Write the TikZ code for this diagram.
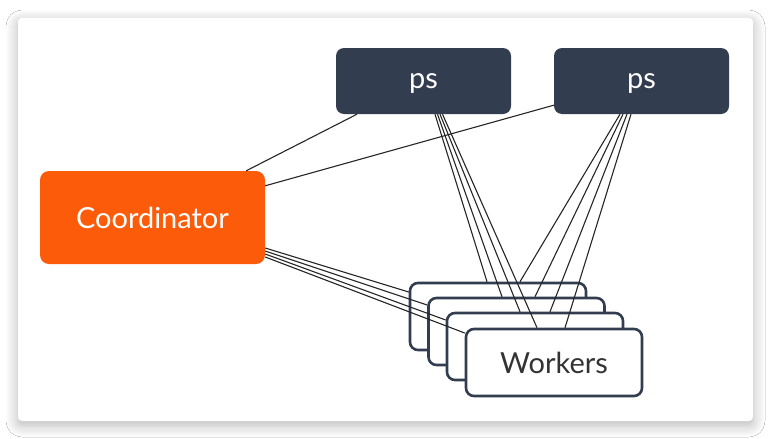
\documentclass[tikz,border=0pt]{standalone}
\usepackage{fontspec}
\setmainfont{Lato}
\usetikzlibrary{calc,shadows.blur}
\definecolor{navy}{HTML}{333D50}
\definecolor{orangec}{HTML}{FC5B0A}
\definecolor{wtext}{HTML}{333333}
\tikzset{
  psbox/.style={fill=navy, rounded corners=8pt, minimum width=175pt, minimum height=66pt, inner sep=0pt, text depth=0pt, text=white, font=\fontsize{29}{34}\selectfont},
  coordbox/.style={fill=orangec, rounded corners=9pt, minimum width=225pt, minimum height=93pt, inner sep=0pt, text=white, font=\fontsize{29}{34}\selectfont},
  workbox/.style={draw=navy, line width=2.6pt, fill=white, rounded corners=8pt, minimum width=176pt, minimum height=67pt, inner sep=0pt, text=wtext, font=\fontsize{29}{34}\selectfont},
  link/.style={draw=black!85, line width=1.1pt},
  card/.style={fill=white, rounded corners=4pt, blur shadow={shadow xshift=0pt, shadow yshift=-4pt, shadow blur radius=12pt, shadow opacity=30, shadow blur steps=12}}
}
\begin{document}
\begin{tikzpicture}[x=1pt,y=-1pt]
\useasboundingbox[fill=white] (0,0) rectangle (771,439);
\path[card] (18,18) rectangle (753,421);
\node[psbox] (ps1) at (423.5,81) {ps};
\node[psbox] (ps2) at (641.5,81) {ps};
\node[coordbox] (coord) at (152.5,217.5) {Coordinator};
\node[workbox] (w1) at (498,316.5) {};
\node[workbox] (w2) at (516.5,331.5) {};
\node[workbox] (w3) at (535,346.5) {};
\node[workbox] (w4) at (554,362.5) {Workers};
% ps -> coordinator
\draw[link] ($(ps1.south)+(-66.5,0)$) -- ($(coord.north east)+(-19,0)$);
\draw[link] ($(ps2.south west)+(0,-9)$) -- ($(coord.north east)+(0,15)$);
% ps1 -> workers
\draw[link] ($(ps1.south)+(11.5,0)$) -- ($(w1.north)+(-11,0)$);
\draw[link] ($(ps1.south)+(14,0)$) -- ($(w2.north)+(-14.5,0)$);
\draw[link] ($(ps1.south)+(16.5,0)$) -- ($(w3.north)+(-15,0)$);
\draw[link] ($(ps1.south)+(19,0)$) -- ($(w4.north)+(-17,0)$);
% ps2 -> workers
\draw[link] ($(ps2.south)+(-21.5,0)$) -- ($(w1.north)+(22,0)$);
\draw[link] ($(ps2.south)+(-18.5,0)$) -- ($(w2.north)+(18.5,0)$);
\draw[link] ($(ps2.south)+(-14.5,0)$) -- ($(w3.north)+(15,0)$);
\draw[link] ($(ps2.south)+(-10.5,0)$) -- ($(w4.north)+(11,0)$);
% coordinator -> workers
\draw[link] ($(coord.east)+(0,30.5)$) -- ($(w1.west)+(0,-24.5)$);
\draw[link] ($(coord.east)+(0,33.5)$) -- ($(w2.west)+(0,-26.5)$);
\draw[link] ($(coord.east)+(0,36.5)$) -- ($(w3.west)+(0,-26.5)$);
\draw[link] ($(coord.east)+(0,39.5)$) -- ($(w4.west)+(0,-29.5)$);
\end{tikzpicture}
\end{document}
